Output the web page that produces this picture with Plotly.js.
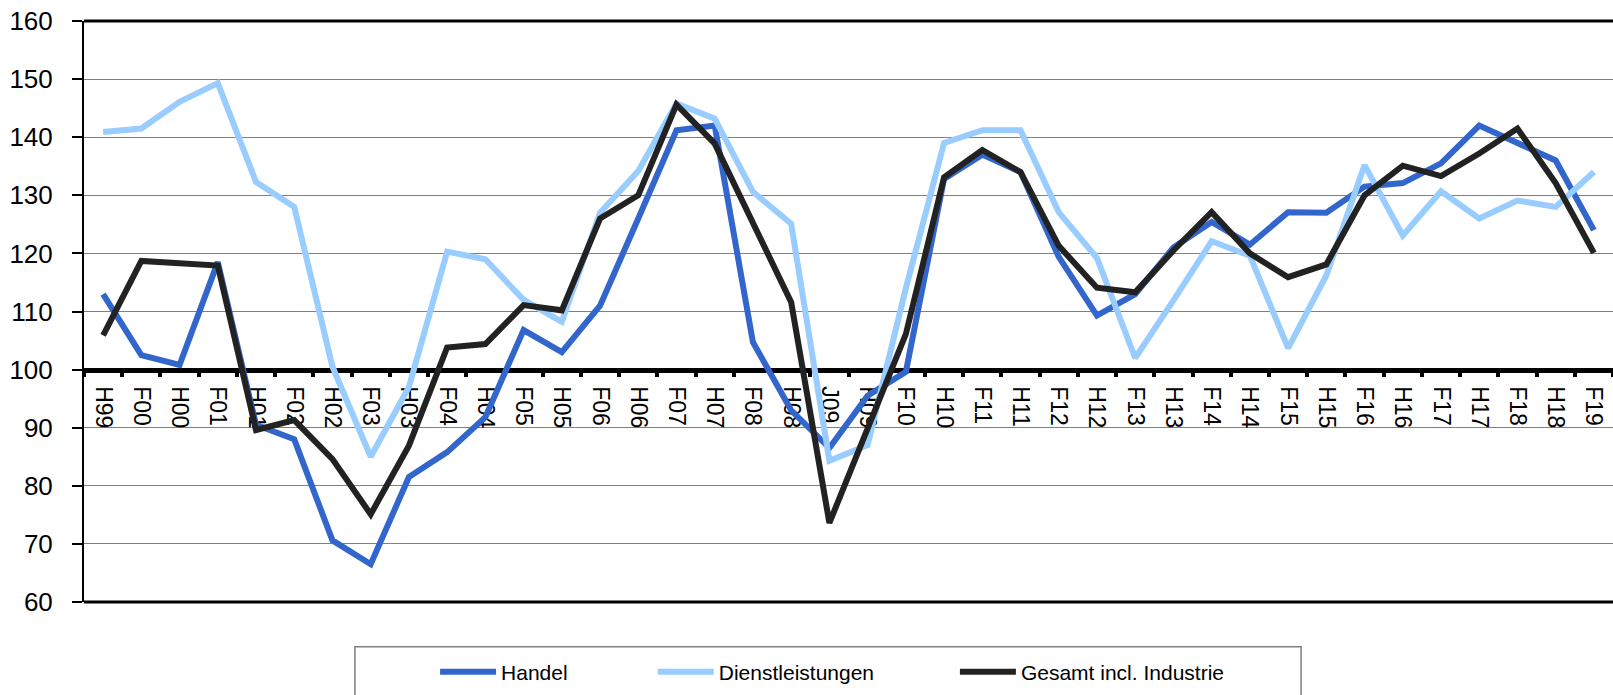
<!DOCTYPE html>
<html>
<head>
<meta charset="utf-8">
<script src="https://cdn.plot.ly/plotly-3.0.1.min.js"></script>
<style>
  html, body { margin: 0; padding: 0; background: #fff; }
  #chart { width: 1613px; height: 695px; }
</style>
</head>
<body>
<div id="chart"></div>
<script>
const periods = ['H99', 'F00', 'H00', 'F01', 'H01', 'F02', 'H02', 'F03', 'H03', 'F04',
    'H04', 'F05', 'H05', 'F06', 'H06', 'F07', 'H07', 'F08', 'H08', 'J09',
    'H09', 'F10', 'H10', 'F11', 'H11', 'F12', 'H12', 'F13', 'H13', 'F14',
    'H14', 'F15', 'H15', 'F16', 'H16', 'F17', 'H17', 'F18', 'H18', 'F19'];

const handel = [113.0, 102.5, 100.8, 118.5, 90.5, 88.0, 70.6, 66.5, 81.5, 85.8,
    91.8, 106.8, 103.0, 111.0, 126.0, 141.2, 142.0, 104.7, 93.0, 86.5,
    95.5, 99.6, 132.8, 137.0, 134.0, 119.4, 109.3, 113.0, 121.0, 125.4,
    121.5, 127.1, 127.0, 131.5, 132.1, 135.5, 142.0, 139.0, 136.0, 124.0];

const dienstleistungen = [140.9, 141.5, 146.1, 149.3, 132.3, 128.0, 100.5, 85.0, 97.0, 120.3,
    119.0, 112.0, 108.2, 127.0, 134.2, 145.8, 143.2, 130.6, 125.1, 84.3,
    87.0, 114.0, 139.0, 141.2, 141.2, 127.1, 119.2, 102.0, 111.9, 122.1,
    119.6, 103.7, 116.2, 135.2, 123.1, 130.7, 126.0, 129.1, 128.0, 134.0];

const gesamt = [105.9, 118.7, 118.3, 117.9, 89.6, 91.3, 84.6, 75.1, 86.9, 103.8,
    104.4, 111.1, 110.2, 126.0, 130.0, 145.6, 138.9, 125.1, 111.6, 73.6,
    90.0, 106.1, 133.1, 137.8, 134.0, 121.3, 114.1, 113.3, 120.5, 127.1,
    120.0, 115.9, 118.1, 130.0, 135.1, 133.3, 137.2, 141.5, 132.1, 120.1];

const legendFont = { family: '"Liberation Sans", Arial, sans-serif', size: 21, color: '#000' };

const makeTrace = (name, y, color, legendId) => ({
    x: periods,
    y: y,
    type: 'scatter',
    mode: 'lines',
    name: name,
    legend: legendId,
    line: { color: color, width: 6 }
});

const data = [
    makeTrace('Handel', handel, '#3366CC', 'legend'),
    makeTrace('Dienstleistungen', dienstleistungen, '#99CCFF', 'legend2'),
    makeTrace('Gesamt incl. Industrie', gesamt, '#222222', 'legend3')
];

const legendBase = {
    orientation: 'h',
    bgcolor: 'rgba(0,0,0,0)',
    borderwidth: 0,
    font: legendFont,
    xanchor: 'left',
    yanchor: 'middle',
    y: -0.1205,
    itemwidth: 56
};

const layout = {
    width: 1613,
    height: 695,
    margin: { l: 84, r: 0, t: 21, b: 93 },
    paper_bgcolor: '#fff',
    plot_bgcolor: '#fff',
    font: { family: '"Liberation Sans", Arial, sans-serif', color: '#000' },
    showlegend: true,
    xaxis: {
        type: 'category',
        range: [-0.5, periods.length - 0.5],
        anchor: 'free',
        position: 0.4,
        showline: true,
        linecolor: '#000',
        linewidth: 5,
        ticks: 'outside',
        tickson: 'boundaries',
        ticklen: 4,
        tickwidth: 4,
        tickcolor: '#000',
        tickangle: 90,
        ticklabelstandoff: 9,
        tickfont: { size: 23, color: '#000' },
        showgrid: false,
        zeroline: false,
        layer: 'below traces'
    },
    yaxis: {
        range: [60, 160],
        dtick: 10,
        showline: true,
        linecolor: '#000',
        linewidth: 2,
        ticks: 'outside',
        ticklen: 10,
        tickwidth: 2,
        tickcolor: '#000',
        ticklabelstandoff: 14,
        tickfont: { size: 26, color: '#000' },
        showgrid: true,
        gridcolor: '#808080',
        gridwidth: 1,
        zeroline: false
    },
    shapes: [
        { type: 'line', xref: 'paper', yref: 'paper', x0: 0, x1: 1, y0: 1, y1: 1, line: { color: '#000', width: 3 } },
        { type: 'line', xref: 'paper', yref: 'paper', x0: 0, x1: 1, y0: 0, y1: 0, line: { color: '#000', width: 3 } },
        { type: 'rect', xref: 'paper', yref: 'paper', x0: 0.1772, x1: 0.796, y0: -0.077, y1: -0.2,
          line: { color: '#808080', width: 1.5 }, fillcolor: '#fff', layer: 'below' }
    ],
    legend: Object.assign({}, legendBase, { x: 0.2296 }),
    legend2: Object.assign({}, legendBase, { x: 0.372 }),
    legend3: Object.assign({}, legendBase, { x: 0.5696 })
};

Plotly.newPlot('chart', data, layout, { displayModeBar: false, staticPlot: true });
</script>
</body>
</html>
